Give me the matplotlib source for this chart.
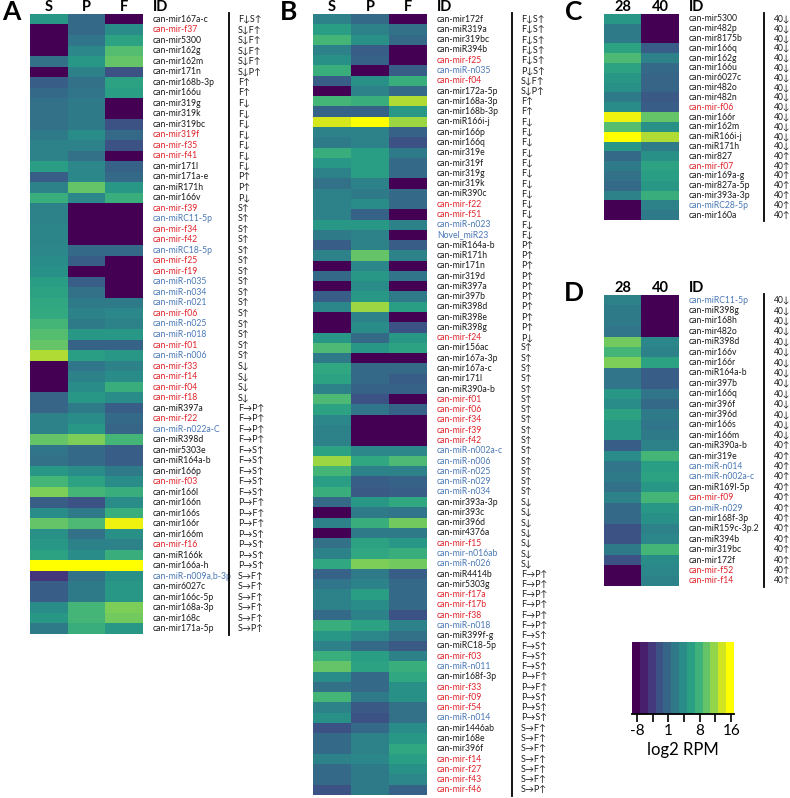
import matplotlib
matplotlib.use("Agg")
import matplotlib.pyplot as plt
import numpy as np
from matplotlib.colors import ListedColormap
from matplotlib import transforms

# ---------------- data ----------------
# colour level of each cell on the colour scale (0 = lowest, 1 = highest)
A_ids = ["can-mir167a-c", "can-mir-f37", "can-mir5300", "can-mir162g", "can-mir162m", "can-mir171n",
         "can-mir168b-3p", "can-mir166u", "can-mir319g", "can-mir319k", "can-mir319bc", "can-mir319f",
         "can-mir-f35", "can-mir-f41", "can-mir171l", "can-mir171a-e", "can-miR171h", "can-mir166v",
         "can-mir-f39", "can-miRC11-5p", "can-mir-f34", "can-mir-f42", "can-miRC18-5p", "can-mir-f25",
         "can-mir-f19", "can-miR-n035", "can-miR-n034", "can-miR-n021", "can-mir-f06", "can-miR-n025",
         "can-miR-n018", "can-mir-f01", "can-miR-n006", "can-mir-f33", "can-mir-f14", "can-mir-f04",
         "can-mir-f18", "can-miR397a", "can-mir-f22", "can-miR-n022a-C", "can-miR398d", "can-mir5303e",
         "can-miR164a-b", "can-mir166p", "can-mir-f03", "can-mir166l", "can-mir166n", "can-mir166s",
         "can-mir166r", "can-mir166m", "can-mir-f16", "can-miR166k", "can-mir166a-h", "can-miR-n009a,b-3p",
         "can-mir6027c", "can-mir166c-5p", "can-mir168a-3p", "can-mir168c", "can-mir171a-5p"]
A_kind = "krkkkkkkkkkrrrkkkkrbrrbrrbbbrbbrbrrrrkrbkkkkrkkkkkrkkbkkkkk"
A_change = ["F↓S↑", "S↓F↑", "S↓F↑", "S↓F↑", "S↓F↑", "S↓P↑", "F↑", "F↑", "F↓", "F↓", "F↓", "F↓", "F↓",
            "F↓", "F↓", "P↑", "P↑", "P↓"] + ["S↑"] * 15 + ["S↓"] * 4 + ["F→P↑"] * 4 + ["F→S↑"] * 5 + \
           ["P→F↑"] * 3 + ["P→S↑"] * 4 + ["S→F↑"] * 5 + ["S→P↑"]
A_S = [0.55, 0, 0, 0, 0.38, 0, 0.30, 0.35, 0.38, 0.38, 0.38, 0.42, 0.45, 0.45, 0.58, 0.30, 0.45, 0.65,
       0.45, 0.45, 0.47, 0.47, 0.48, 0.50, 0.52, 0.58, 0.60, 0.62, 0.63, 0.68, 0.72, 0.75, 0.88, 0, 0, 0,
       0.33, 0.33, 0.45, 0.45, 0.75, 0.40, 0.38, 0.55, 0.68, 0.80, 0.30, 0.50, 0.75, 0.52, 0.55, 0.60, 1.0,
       0.15, 0.30, 0.30, 0.50, 0.55, 0.42]
A_P = [0.35, 0.35, 0.40, 0.48, 0.55, 0.45, 0.38, 0.40, 0.42, 0.42, 0.42, 0.50, 0.45, 0.38, 0.48, 0.48,
       0.75, 0.48, 0, 0, 0, 0, 0.35, 0.30, 0, 0.30, 0.38, 0.42, 0.45, 0.42, 0.55, 0.32, 0.58, 0.40, 0.45,
       0.50, 0.55, 0.42, 0.50, 0.55, 0.80, 0.35, 0.35, 0.50, 0.60, 0.68, 0.25, 0.42, 0.70, 0.38, 0.45, 0.50,
       1.0, 0.38, 0.42, 0.42, 0.68, 0.68, 0.65]
A_F = [0, 0.50, 0.60, 0.72, 0.75, 0.25, 0.60, 0.58, 0, 0, 0.25, 0.35, 0.25, 0, 0.32, 0.35, 0.55, 0.65,
       0, 0, 0, 0, 0.35, 0, 0, 0, 0, 0.42, 0.48, 0.45, 0.55, 0.32, 0.55, 0.45, 0.50, 0.65, 0.50, 0.30,
       0.35, 0.33, 0.68, 0.30, 0.30, 0.42, 0.50, 0.65, 0.50, 0.65, 0.95, 0.52, 0.45, 0.65, 1.0, 0.52, 0.55,
       0.55, 0.80, 0.78, 0.55]

B_ids = ["can-mir172f", "can-miR319a", "can-mir319bc", "can-miR394b", "can-mir-f25", "can-miR-n035",
         "can-mir-f04", "can-mir172a-5p", "can-mir168a-3p", "can-mir168b-3p", "can-miR166i-j", "can-mir166p",
         "can-mir166q", "can-mir319e", "can-mir319f", "can-mir319g", "can-mir319k", "can-miR390c",
         "can-mir-f22", "can-mir-f51", "can-miR-n023", "Novel_miR23", "can-miR164a-b", "can-miR171h",
         "can-mir171n", "can-mir319d", "can-miR397a", "can-mir397b", "can-miR398d", "can-miR398e",
         "can-miR398g", "can-mir-f24", "can-mir156ac", "can-mir167a-3p", "can-mir167a-c", "can-mir171l",
         "can-miR390a-b", "can-mir-f01", "can-mir-f06", "can-mir-f34", "can-mir-f39", "can-mir-f42",
         "can-miR-n002a-c", "can-miR-n006", "can-miR-n025", "can-miR-n029", "can-miR-n034", "can-mir393a-3p",
         "can-mir393c", "can-mir396d", "can-mir4376a", "can-mir-f15", "can-mir-n016ab", "can-miR-n026",
         "can-miR4414b", "can-mir5303g", "can-mir-f17a", "can-mir-f17b", "can-mir-f38", "can-miR-n018",
         "can-miR399f-g", "can-miRC18-5p", "can-mir-f03", "can-miR-n011", "can-mir168f-3p", "can-mir-f33",
         "can-mir-f09", "can-mir-f54", "can-miR-n014", "can-mir1446ab", "can-mir168e", "can-mir396f",
         "can-mir-f14", "can-mir-f27", "can-mir-f43", "can-mir-f46"]
B_kind = "kkkkrbrkkkkkkkkkkkrrbbkkkkkkkkkrkkkkkrrrrrbbbbbkkkkrbbkkrrrbkkrbkrrrbkkkrrrr"
B_change = ["F↓S↑"] * 5 + ["P↓S↑", "S↓F↑", "S↓P↑", "F↑", "F↑"] + ["F↓"] * 12 + ["P↑"] * 9 + ["P↓"] + \
           ["S↑"] * 15 + ["S↓"] * 7 + ["F→P↑"] * 6 + ["F→S↑"] * 4 + ["P→F↑"] * 2 + ["P→S↑"] * 3 + \
           ["S→F↑"] * 6 + ["S→P↑"]
B_S = [0.45, 0.58, 0.68, 0.45, 0.52, 0.65, 0.30, 0, 0.68, 0.32, 0.92, 0.45, 0.42, 0.65, 0.55, 0.45, 0.38,
       0.45, 0.45, 0.45, 0.55, 0.42, 0.30, 0.45, 0, 0.35, 0, 0.30, 0.48, 0, 0, 0.55, 0.70, 0.42, 0.62, 0.60,
       0.45, 0.70, 0.60, 0.48, 0.45, 0.45, 0.60, 0.85, 0.68, 0.58, 0.65, 0.35, 0, 0.45, 0, 0.38, 0.45, 0.62,
       0.32, 0.40, 0.45, 0.45, 0.35, 0.65, 0.55, 0.45, 0.65, 0.75, 0.50, 0.38, 0.68, 0.45, 0.52, 0.25, 0.35,
       0.35, 0.45, 0.35, 0.35, 0.25]
B_P = [0.35, 0.45, 0.52, 0.30, 0.32, 0, 0.52, 0.45, 0.65, 0.32, 1.0, 0.45, 0.45, 0.58, 0.58, 0.58, 0.45,
       0.42, 0.50, 0.32, 0.55, 0.45, 0.45, 0.75, 0.48, 0.55, 0.50, 0.55, 0.85, 0.45, 0.50, 0.35, 0.55, 0,
       0.35, 0.35, 0.32, 0.25, 0.40, 0, 0, 0, 0.48, 0.62, 0.45, 0.30, 0.28, 0.55, 0.42, 0.65, 0.42, 0.60,
       0.62, 0.80, 0.42, 0.45, 0.58, 0.50, 0.45, 0.60, 0.48, 0.35, 0.58, 0.60, 0.35, 0.35, 0.42, 0.28, 0.25,
       0.35, 0.45, 0.45, 0.48, 0.42, 0.42, 0.42]
B_F = [0, 0.38, 0.35, 0, 0, 0.30, 0.65, 0.35, 0.88, 0.55, 0.85, 0.32, 0.25, 0.42, 0.35, 0.35, 0, 0.35,
       0.35, 0, 0.45, 0, 0.30, 0.45, 0, 0.40, 0, 0.42, 0.58, 0, 0.25, 0.55, 0.60, 0, 0.35, 0.30, 0.32, 0,
       0.32, 0, 0, 0, 0.48, 0.70, 0.45, 0.32, 0.30, 0.62, 0.40, 0.78, 0.42, 0.55, 0.65, 0.78, 0.30, 0.35,
       0.35, 0.35, 0.25, 0.45, 0.38, 0.28, 0.45, 0.65, 0.62, 0.52, 0.52, 0.38, 0.38, 0.50, 0.55, 0.62, 0.58,
       0.52, 0.48, 0.32]

C_ids = ["can-mir5300", "can-mir482p", "can-mir8175b", "can-mir166q", "can-mir162g", "can-mir166u",
         "can-mir6027c", "can-mir482o", "can-mir482n", "can-mir-f06", "can-mir166r", "can-mir162m",
         "can-miR166i-j", "can-miR171h", "can-mir827", "can-mir-f07", "can-mir169a-g", "can-mir827a-5p",
         "can-mir393a-3p", "can-miRC28-5p", "can-mir160a"]
C_kind = "kkkkkkkkkrkkkkkrkkkbk"
C_change = ["40↓"] * 14 + ["40↑"] * 7
C_28 = [0.55, 0.42, 0.42, 0.60, 0.70, 0.60, 0.55, 0.52, 0.42, 0.50, 0.95, 0.72, 1.0, 0.55, 0.35, 0.42,
        0.38, 0.35, 0.45, 0, 0]
C_40 = [0, 0, 0, 0.30, 0.45, 0.35, 0.33, 0.33, 0.28, 0.30, 0.75, 0.52, 0.88, 0.42, 0.52, 0.60, 0.58,
        0.55, 0.65, 0.45, 0.42]

D_ids = ["can-miRC11-5p", "can-miR398g", "can-mir168h", "can-mir482o", "can-miR398d", "can-mir166v",
         "can-mir166r", "can-miR164a-b", "can-mir397b", "can-mir166q", "can-mir396f", "can-mir396d",
         "can-mir166s", "can-mir166m", "can-miR390a-b", "can-mir319e", "can-miR-n014", "can-miR-n002a-c",
         "can-miR169l-5p", "can-mir-f09", "can-miR-n029", "can-mir168f-3p", "can-miR159c-3p.2",
         "can-miR394b", "can-mir319bc", "can-mir172f", "can-mir-f52", "can-mir-f14"]
D_kind = "bkkkkkkkkkkkkkkkbbkrbkkkkkrr"
D_change = ["40↓"] * 14 + ["40↑"] * 14
D_28 = [0.45, 0.42, 0.42, 0.40, 0.78, 0.68, 0.80, 0.40, 0.40, 0.55, 0.50, 0.60, 0.55, 0.55, 0.30, 0.50,
        0.40, 0.42, 0.38, 0.45, 0.35, 0.35, 0.25, 0.25, 0.42, 0.25, 0, 0]
D_40 = [0, 0, 0, 0, 0.48, 0.45, 0.60, 0.30, 0.30, 0.40, 0.35, 0.42, 0.40, 0.42, 0.45, 0.68, 0.58, 0.60,
        0.55, 0.68, 0.55, 0.52, 0.45, 0.48, 0.68, 0.50, 0.48, 0.45]

cbar_ticklabels = ["-8", "1", "8", "16"]
cbar_label = "log2 RPM"

# ---------------- style ----------------
W, H = 790, 798
fig = plt.figure(figsize=(W / 100, H / 100), dpi=100)
FONT = ["Lato", "DejaVu Sans"]
kind_color = {"k": "#1a1a1a", "r": "#e0242b", "b": "#4a78b5"}

# viridis, a little muted in the middle and ending in pure yellow
vir = plt.get_cmap("viridis")
ts = np.linspace(0, 1, 256)
cols = vir(ts)[:, :3]
top = ts > 0.9
mix = ((ts[top] - 0.9) / 0.1)[:, None]
cols[top] = cols[top] * (1 - mix) + np.array([1.0, 1.0, 0.0]) * mix
lum = (cols @ np.array([0.3, 0.59, 0.11]))[:, None]
w = (0.12 * np.clip(ts / 0.25, 0, 1) * np.clip((1 - ts) / 0.3, 0, 1))[:, None]
cols = np.clip(cols * (1 - w) + lum * w, 0, 1)
cmap = ListedColormap(cols)


def fx(px):
    return px / W


def fy(py):
    return 1 - py / H


def panel(letter, cols, data, ids, kinds, changes, x0, x1, y0, y1, id_x, line_x, chg_x, letter_x,
          chg_size):
    ax = fig.add_axes([fx(x0), fy(y1), fx(x1) - fx(x0), fy(y0) - fy(y1)])
    arr = np.array(data).T
    n = arr.shape[0]
    ax.imshow(arr, cmap=cmap, vmin=0, vmax=1, aspect="auto", interpolation="nearest")
    ax.set_xlim(-0.5, len(cols) - 0.5)
    ax.set_ylim(n - 0.5, -0.5)
    ax.axis("off")
    tr = transforms.blended_transform_factory(fig.transFigure, ax.transData)
    for i, (name, k, ch) in enumerate(zip(ids, kinds, changes)):
        ax.text(fx(id_x), i, name, transform=tr, fontsize=6.2, color=kind_color[k],
                va="center", ha="left", family=FONT)
        ax.text(fx(chg_x), i, ch, transform=tr, fontsize=chg_size, color="#1a1a1a",
                va="center", ha="left", family=FONT)
    fig.add_artist(plt.Line2D([fx(line_x), fx(line_x)], [fy(y0 - 1), fy(y1 + 1)],
                              transform=fig.transFigure, color="black", lw=1.3))
    hy = y0 - 7
    for j, c in enumerate(cols):
        cx = x0 + (x1 - x0) * (j + 0.5) / len(cols)
        fig.text(fx(cx), fy(hy), c, fontsize=10.5, fontweight="bold", ha="center", va="center",
                 family=FONT)
    fig.text(fx(id_x), fy(hy), "ID", fontsize=10.5, fontweight="bold", ha="left", va="center",
             family=FONT)
    fig.text(fx(letter_x), fy(hy + 5), letter, fontsize=19, fontweight="bold", ha="center",
             va="center", family=FONT)
    return ax


panel("A", ["S", "P", "F"], [A_S, A_P, A_F], A_ids, A_kind, A_change,
      30, 143, 14, 634, 153, 229, 238, 11, 6.5)
panel("B", ["S", "P", "F"], [B_S, B_P, B_F], B_ids, B_kind, B_change,
      313, 427, 14, 795, 437, 512, 521, 289, 6.5)
panel("C", ["28", "40"], [C_28, C_40], C_ids, C_kind, C_change,
      604, 679, 14, 220, 689, 764, 774, 574, 6.2)
panel("D", ["28", "40"], [D_28, D_40], D_ids, D_kind, D_change,
      604, 679, 295, 586, 689, 764, 774, 574, 6.2)

# ---------------- colour bar ----------------
n_bands = 13
cax = fig.add_axes([fx(632), fy(714), fx(734) - fx(632), fy(642) - fy(714)])
cax.imshow(np.arange(n_bands)[None, :], cmap=ListedColormap(cmap(np.linspace(0, 1, n_bands))),
           aspect="auto", extent=[0, n_bands, 0, 1], interpolation="nearest")
tick_pos = 0.64 + 2 * np.arange(7)
cax.set_xticks(tick_pos)
cax.set_xticklabels([cbar_ticklabels[i // 2] if i % 2 == 0 else "" for i in range(7)],
                    fontsize=11, family=FONT)
cax.tick_params(axis="x", length=6, width=1.2, pad=1)
cax.set_yticks([])
for s in ["top", "left", "right"]:
    cax.spines[s].set_visible(False)
cax.spines["bottom"].set_linewidth(1.3)
cax.set_xlim(0, n_bands)
fig.text(fx(683), fy(750), cbar_label, fontsize=12, ha="center", va="center", family=FONT)

fig.savefig("out.png", dpi=100)
